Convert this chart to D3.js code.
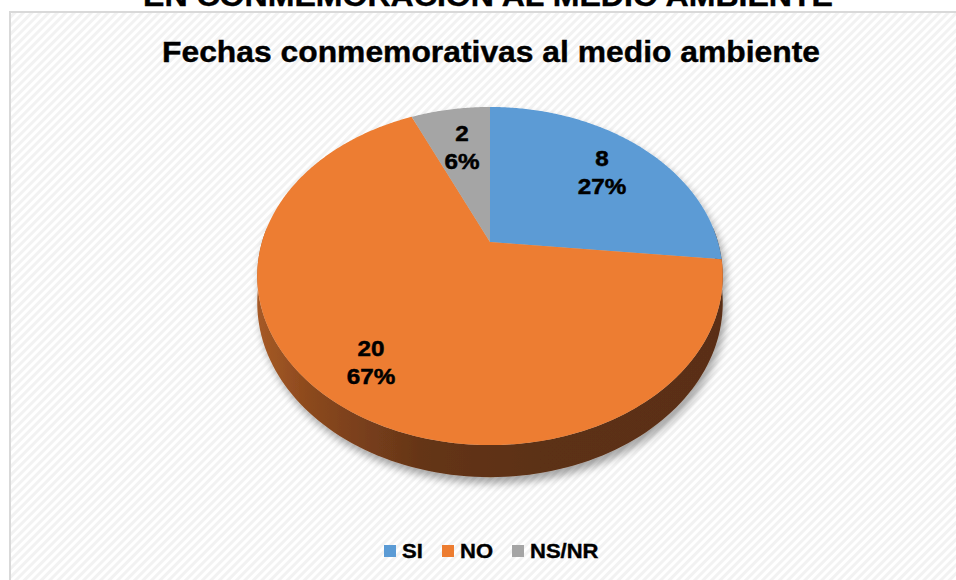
<!DOCTYPE html>
<html><head><meta charset="utf-8">
<script src="https://d3js.org/d3.v7.min.js"></script>
<style>html,body{margin:0;padding:0;background:#fff;overflow:hidden}svg{display:block}</style>
</head><body>
<svg id="chart" width="956" height="580"></svg>
<script>
const categories = ["SI", "NO", "NS/NR"];
const values = [8, 20, 2];
const percentLabels = ["27%", "67%", "6%"];
const colors = ["#5b9bd5", "#ed7d31", "#a5a5a5"];
const chartTitle = "Fechas conmemorativas al medio ambiente";
const pageTitle = "EN CONMEMORACIÓN AL MEDIO AMBIENTE";

const svg = d3.select("#chart");
const W = 956, H = 580;
const FONT = "Liberation Sans, Arial, sans-serif";
const defs = svg.append("defs");

// striped background pattern
const pat = defs.append("pattern").attr("id", "stripes").attr("patternUnits", "userSpaceOnUse")
  .attr("width", 6).attr("height", 6).attr("patternTransform", "rotate(45)");
pat.append("rect").attr("width", 6).attr("height", 6).attr("fill", "#ffffff");
pat.append("rect").attr("width", 3).attr("height", 6).attr("fill", "#f2f2f2");

// shadow
const f = defs.append("filter").attr("id", "shadow").attr("x", "-20%").attr("y", "-20%").attr("width", "140%").attr("height", "140%");
f.append("feGaussianBlur").attr("in", "SourceAlpha").attr("stdDeviation", 4).attr("result", "b");
f.append("feOffset").attr("in", "b").attr("dx", 3).attr("dy", 6).attr("result", "o");
f.append("feComponentTransfer").attr("in", "o").attr("result", "s")
  .append("feFuncA").attr("type", "linear").attr("slope", 0.35);
const fm = f.append("feMerge");
fm.append("feMergeNode").attr("in", "s");
fm.append("feMergeNode").attr("in", "SourceGraphic");

// side gradient
const g = defs.append("linearGradient").attr("id", "sideGrad").attr("gradientUnits", "userSpaceOnUse")
  .attr("x1", 257).attr("x2", 723).attr("y1", 0).attr("y2", 0);
[[0, "#a65a26"], [0.12, "#8a481d"], [0.35, "#653518"], [0.6, "#5c3015"], [1, "#5a2f14"]]
  .forEach(([o, c]) => g.append("stop").attr("offset", o).attr("stop-color", c));

// page title (cut off at top, as in the reference)
svg.append("text").attr("x", 488).attr("y", 6).attr("text-anchor", "middle")
  .attr("font-family", FONT).attr("font-weight", "bold")
  .attr("font-size", 30).attr("textLength", 690).attr("lengthAdjust", "spacingAndGlyphs")
  .attr("fill", "#000").attr("stroke", "#000").attr("stroke-width", 0.4).text(pageTitle);

// chart area
svg.append("rect").attr("x", 10).attr("y", 12).attr("width", W).attr("height", H)
  .attr("fill", "url(#stripes)").attr("stroke", "#d9d9d9").attr("stroke-width", 2);

svg.append("text").attr("x", 491).attr("y", 62).attr("text-anchor", "middle")
  .attr("font-family", FONT).attr("font-weight", "bold")
  .attr("font-size", 30).attr("textLength", 658).attr("lengthAdjust", "spacingAndGlyphs")
  .attr("fill", "#000").attr("stroke", "#000").attr("stroke-width", 0.4).text(chartTitle);

// 3D perspective projection of pie angles
const cx = 490, cy = 242, k = 228, ks = 162.2, u = 0.2013, T = 25.6;
function proj(phi, depth) {
  const den = 1 + u * Math.cos(phi);
  return [cx + k * Math.sin(phi) / den, cy - ks * Math.cos(phi) / den + depth * T / den];
}
const line = d3.line();
const color = d3.scaleOrdinal().domain(categories).range(colors);

const pie = d3.pie().sort(null).value(d => d.v);
const arcs = pie(categories.map((c, i) => ({ c, v: values[i], p: percentLabels[i] })));

const pieG = svg.append("g").attr("filter", "url(#shadow)");

// side (front) wall
const a0 = 85 * Math.PI / 180, a1 = 275 * Math.PI / 180;
const sidePts = [];
d3.range(0, 121).forEach(i => sidePts.push(proj(a0 + (a1 - a0) * i / 120, 0)));
d3.range(120, -1, -1).forEach(i => sidePts.push(proj(a0 + (a1 - a0) * i / 120, 1)));
pieG.append("path").attr("d", line(sidePts) + "Z").attr("fill", "url(#sideGrad)");

// top faces
arcs.forEach(a => {
  const n = Math.max(4, Math.ceil((a.endAngle - a.startAngle) / 0.01));
  const pts = [[cx, cy]];
  for (let i = 0; i <= n; i++) pts.push(proj(a.startAngle + (a.endAngle - a.startAngle) * i / n, 0));
  pieG.append("path").attr("d", line(pts) + "Z").attr("fill", color(a.data.c));
});

// labels (glyphs slightly widened as in the reference)
const SX = 1.1;
const labelPos = { "SI": [602, 166], "NO": [371, 356], "NS/NR": [462, 141] };
arcs.forEach(a => {
  const [x, y] = labelPos[a.data.c];
  const t = svg.append("g").attr("transform", `translate(${x},${y}) scale(${SX},1)`)
    .append("text").attr("text-anchor", "middle")
    .attr("font-family", FONT).attr("font-weight", "bold")
    .attr("font-size", 22).attr("fill", "#000")
    .attr("stroke", "#000").attr("stroke-width", 0.5);
  t.append("tspan").attr("x", 0).attr("y", 0).text(a.data.v);
  t.append("tspan").attr("x", 0).attr("y", 28).text(a.data.p);
});

// legend
const legendX = [384, 442, 512];
categories.forEach((c, i) => {
  svg.append("rect").attr("x", legendX[i]).attr("y", 545).attr("width", 12).attr("height", 12).attr("fill", color(c));
  svg.append("g").attr("transform", `translate(${legendX[i] + 18},558) scale(${SX},1)`)
    .append("text").attr("x", 0).attr("y", 0)
    .attr("font-family", FONT).attr("font-weight", "bold")
    .attr("font-size", 20).attr("fill", "#000")
    .attr("stroke", "#000").attr("stroke-width", 0.4).text(c);
});
</script>
</body></html>
